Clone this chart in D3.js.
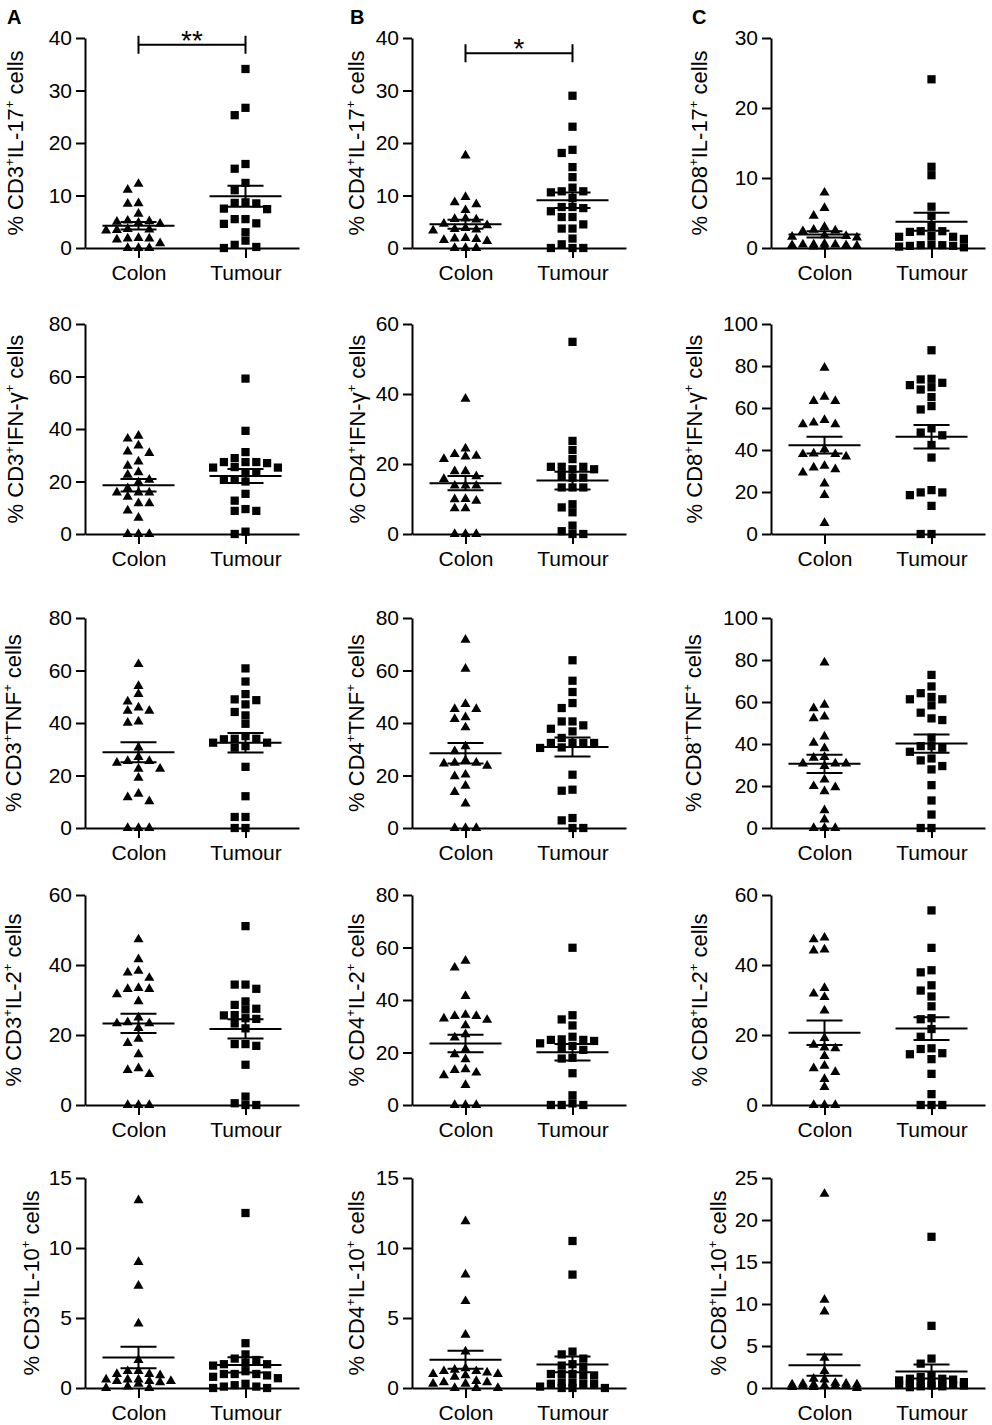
<!DOCTYPE html>
<html lang="en">
<head>
<meta charset="UTF-8">
<title>Cytokine producing T cells in colon and tumour</title>
<style>
  body { margin: 0; background: #fff; }
  svg { display: block; font-family: "Liberation Sans", Arial, sans-serif; }
  .axis path, .axis line { stroke: #000; stroke-width: 2; }
  .axis text { font-family: "Liberation Sans", Arial, sans-serif; font-size: 21px; fill: #000; }
  .stat { stroke: #000; stroke-width: 2; }
</style>
</head>
<body>
<script src="https://d3js.org/d3.v7.min.js"></script>
<script>
// categories
const groups = ["Colon", "Tumour"];
const cellTypes = ["CD3", "CD4", "CD8"];
const cytokines = ["IL-17", "IFN-γ", "TNF", "IL-2", "IL-10"];
const panelLetters = ["A", "B", "C"];

// y tick labels, per cytokine row, per cell type column
const yTicks = [
  [[0, 10, 20, 30, 40], [0, 10, 20, 30, 40], [0, 10, 20, 30]],
  [[0, 20, 40, 60, 80], [0, 20, 40, 60], [0, 20, 40, 60, 80, 100]],
  [[0, 20, 40, 60, 80], [0, 20, 40, 60, 80], [0, 20, 40, 60, 80, 100]],
  [[0, 20, 40, 60], [0, 20, 40, 60, 80], [0, 20, 40, 60]],
  [[0, 5, 10, 15], [0, 5, 10, 15], [0, 5, 10, 15, 20, 25]]
];

// significance (IL-17 row only)
const sigStars = ["**", "*", ""];
const sigLevel = [38.7, 37.1, null];

// % positive cells
const cd3Il17Colon = [12.2, 11.1, 8.5, 8.4, 6.5, 5.2, 5.1, 5.0, 4.8, 4.6, 3.6, 3.5, 3.4, 3.3, 1.9, 1.8, 1.8, 1.6, 0.9, 0, 0, 0];
const cd3Il17Tumour = [34.1, 26.7, 25.3, 16.0, 15.1, 12.4, 11.0, 8.7, 8.6, 8.5, 7.5, 7.4, 5.5, 5.5, 4.7, 4.6, 3.0, 1.4, 0.6, 0.2, 0];
const cd4Il17Colon = [17.6, 9.7, 8.7, 8.3, 7.2, 5.6, 5.5, 5.4, 4.6, 4.3, 3.8, 3.6, 3.5, 3.3, 1.9, 1.8, 1.7, 1.5, 1.3, 0, 0, 0];
const cd4Il17Tumour = [29.0, 23.1, 18.7, 18.1, 15.4, 13.5, 11.5, 10.8, 10.8, 10.6, 9.5, 7.8, 7.8, 7.6, 7.0, 5.9, 5.9, 4.5, 3.7, 3.7, 1.8, 0.7, 0, 0, 0];
const cd8Il17Colon = [7.9, 5.7, 4.6, 3.0, 2.6, 2.5, 2.4, 1.8, 1.7, 1.6, 1.5, 0.6, 0.5, 0.5, 0.5, 0.4, 0.4, 0.3, 0.2, 0.2];
const cd8Il17Tumour = [24.1, 11.6, 10.4, 5.9, 4.6, 3.1, 2.4, 2.4, 2.3, 1.7, 1.6, 1.6, 1.3, 0.5, 0.4, 0.4, 0.3, 0.3, 0.2, 0.1];

const cd3IfngColon = [37.4, 36.3, 33.7, 31.4, 30.8, 27.6, 26, 23.5, 22.5, 20.6, 19.7, 17.4, 15.8, 15.8, 15.8, 14.2, 11.7, 11.7, 8.9, 6.2, 0, 0, 0];
const cd3IfngTumour = [59.2, 39.3, 31.2, 28.9, 27.4, 27.4, 27.4, 27, 25.3, 25.3, 25.5, 23.4, 23.4, 20.6, 20.6, 20, 15.3, 12.7, 9.5, 8.8, 8.8, 0.9, 0];
const cd4IfngColon = [38.6, 24.4, 22.8, 22.3, 22.1, 21.4, 17.9, 17.9, 16.5, 15.7, 13.8, 13.8, 13.8, 10.0, 9.9, 9.5, 7.3, 7.3, 0, 0, 0];
const cd4IfngTumour = [54.9, 26.6, 24.0, 21.4, 19.2, 19.2, 19.2, 18.5, 18.5, 16.6, 16.1, 16.1, 13.3, 13.3, 13.3, 8.5, 7.6, 6.2, 2.4, 0.8, 0, 0];
const cd8IfngColon = [79.1, 65.3, 63.3, 63.3, 54.3, 52.2, 52.2, 53, 40.3, 38, 38, 36.9, 38.3, 31.6, 30.8, 32.4, 29.3, 24, 18.5, 5.2];
const cd8IfngTumour = [87.5, 73.9, 73.6, 72, 70.9, 69.9, 68.8, 65.2, 60.9, 59.3, 50.3, 48.3, 47, 42.4, 36.4, 20.9, 19.8, 19.8, 18.5, 13.4, 0, 0];

const cd3TnfColon = [62.4, 54.1, 51, 48.2, 45.9, 44.6, 44.6, 40.5, 40.1, 30.6, 27, 25.5, 25.5, 24.8, 22.5, 22.5, 19.1, 13, 11.7, 10.2, 0, 0, 0];
const cd3TnfTumour = [60.8, 55.8, 51, 49, 48.7, 47.1, 44.2, 42.9, 39.7, 35, 34, 34, 33.8, 32.5, 32.5, 31.2, 30.6, 23.3, 12.1, 4.2, 4.2, 0, 0];
const cd4TnfColon = [71.7, 60.6, 47.2, 45.3, 45.3, 42.2, 41.5, 38.3, 31.1, 29.2, 25.8, 24.8, 24.5, 24.8, 23.7, 20.3, 19.7, 16.1, 13.7, 9.3, 0, 0, 0];
const cd4TnfTumour = [63.9, 56.1, 51.8, 47.6, 45.7, 40.6, 40.6, 39.1, 37.8, 36.8, 34.3, 32.4, 32.4, 32.4, 32.4, 30.7, 30.5, 20.3, 14.6, 14.2, 3.8, 2.9, 0, 0];
const cd8TnfColon = [78.8, 58.6, 57, 53, 52.2, 43.5, 40.6, 37.9, 33.8, 33.4, 30.7, 30.7, 30.7, 29.5, 23.1, 19.9, 19.4, 17.5, 8.4, 4, 0, 0, 0];
const cd8TnfTumour = [72.9, 67.4, 64.2, 62.4, 61.3, 61.3, 58.4, 54.9, 52.2, 51.4, 43, 39, 39, 38.2, 36.3, 33.1, 32.2, 29.5, 27.9, 20.4, 13.1, 6.4, 0, 0];

const cd3Il2Colon = [47.3, 41.6, 38.3, 37.8, 36.3, 33.4, 33.1, 33.1, 31.6, 29.6, 25, 23.6, 23.3, 23.3, 22, 18.9, 17.7, 14.5, 10.5, 10, 8.8, 0, 0, 0];
const cd3Il2Tumour = [51.1, 34.4, 34.4, 33.2, 29.6, 28.6, 27.5, 27.3, 25.7, 25.6, 24.8, 24.6, 23.3, 21.9, 17.4, 17.4, 16.9, 11.5, 2.4, 0.5, 0, 0];
const cd4Il2Colon = [54.9, 52.3, 41.5, 34.3, 33.9, 33.9, 32.9, 32.4, 30.3, 26.9, 25.7, 21.2, 19.3, 17.4, 13.6, 13.3, 12.3, 11.3, 7.6, 0, 0, 0];
const cd4Il2Tumour = [59.9, 34.2, 32.6, 30.3, 26, 25, 24.8, 24.8, 24.4, 23.5, 22.5, 21.5, 21.0, 18, 17.7, 12.1, 3.7, 0.6, 0, 0, 0];
const cd8Il2Colon = [47.8, 47.3, 44.4, 44.1, 33.4, 31.8, 30.8, 27, 19.1, 17.2, 16.4, 16.2, 14, 11.2, 10.5, 9.4, 7.4, 5.1, 0, 0, 0];
const cd8Il2Tumour = [55.6, 44.9, 38.5, 37.9, 34.2, 32.7, 31, 28.2, 24.8, 24.5, 21.7, 19.5, 16.2, 16, 14.8, 14.5, 13.1, 8.9, 3.1, 0, 0, 0];

const cd3Il10Colon = [13.4, 9.0, 7.3, 4.6, 2.0, 1.2, 1.2, 1.0, 1.0, 0.9, 0.6, 0.6, 0.6, 0.5, 0.5, 0.5, 0.4, 0.3, 0.1, 0, 0];
const cd3Il10Tumour = [12.5, 3.2, 2.4, 2.1, 2.0, 1.8, 1.7, 1.7, 1.6, 1.2, 1.0, 1.0, 1.0, 0.9, 0.8, 0.7, 0.3, 0.2, 0.1, 0.1, 0, 0];
const cd4Il10Colon = [11.9, 8.1, 6.2, 3.8, 2.6, 1.4, 1.3, 1.2, 1.2, 1.1, 1.0, 1.0, 0.9, 0.8, 0.5, 0.4, 0.4, 0.3, 0.3, 0, 0, 0];
const cd4Il10Tumour = [10.5, 8.1, 2.6, 2.4, 2.1, 1.7, 1.6, 1.5, 1.0, 1.0, 1.0, 0.9, 0.9, 0.4, 0.4, 0.3, 0.3, 0.3, 0.1, 0, 0, 0];
const cd8Il10Colon = [23.1, 10.5, 9.1, 3.6, 2.0, 1.1, 1.0, 0.6, 0.5, 0.5, 0.4, 0.4, 0.4, 0.3, 0.3, 0.2, 0.2, 0.1, 0.1, 0];
const cd8Il10Tumour = [18.0, 7.4, 3.5, 2.9, 1.5, 1.3, 1.1, 1.1, 1.0, 0.9, 0.7, 0.6, 0.5, 0.5, 0.5, 0.4, 0.4, 0.3, 0.3, 0.2, 0.2, 0.1];

// lookup table [row][col] -> [colon, tumour]
const panelData = [
  [[cd3Il17Colon, cd3Il17Tumour], [cd4Il17Colon, cd4Il17Tumour], [cd8Il17Colon, cd8Il17Tumour]],
  [[cd3IfngColon, cd3IfngTumour], [cd4IfngColon, cd4IfngTumour], [cd8IfngColon, cd8IfngTumour]],
  [[cd3TnfColon, cd3TnfTumour], [cd4TnfColon, cd4TnfTumour], [cd8TnfColon, cd8TnfTumour]],
  [[cd3Il2Colon, cd3Il2Tumour], [cd4Il2Colon, cd4Il2Tumour], [cd8Il2Colon, cd8Il2Tumour]],
  [[cd3Il10Colon, cd3Il10Tumour], [cd4Il10Colon, cd4Il10Tumour], [cd8Il10Colon, cd8Il10Tumour]]
];

// layout
const width = 992, height = 1425;
const rowTop = [38, 324, 618, 895, 1178];
const plotH = 210;
const colAxisX = [85, 412, 771];
const axisLen = 214;
const letterX = [7, 350, 692];
const labelOffset = [[-62, -48, -64], [-62, -47, -69], [-64, -48, -70], [-64, -48, -64], [-46, -48, -45]];
const slotStep = 10.8;

const svg = d3.select("body").append("svg")
  .attr("width", width)
  .attr("height", height);

// panel letters
panelLetters.forEach((l, c) => {
  svg.append("text")
    .attr("x", letterX[c])
    .attr("y", 24)
    .attr("font-size", 20)
    .attr("font-weight", "bold")
    .text(l);
});

// spread points sideways like a scatter dot plot
function swarm(values, y) {
  const slots = [0, -1, 1, -2, 2, -3, 3];
  const placed = [];
  const out = [];
  const order = d3.range(values.length).sort((a, b) => values[b] - values[a]);
  order.forEach(i => {
    const py = y(values[i]);
    let best = null, bestGap = -1;
    for (const s of slots) {
      const same = placed.filter(p => p.s === s);
      const gap = same.length ? d3.min(same, p => Math.abs(p.py - py)) : Infinity;
      if (gap >= 8) { best = s; break; }
      if (gap > bestGap) { bestGap = gap; best = s; }
    }
    placed.push({ s: best, py });
    out.push({ v: values[i], dx: best * slotStep });
  });
  return out;
}

cytokines.forEach((cyto, r) => {
  cellTypes.forEach((cell, c) => {
    const ticks = yTicks[r][c];
    const x0 = colAxisX[c];
    const top = rowTop[r];

    const y = d3.scaleLinear()
      .domain([0, d3.max(ticks)])
      .range([top + plotH, top]);
    const x = d3.scalePoint()
      .domain(groups)
      .range([x0, x0 + axisLen])
      .padding(0.5);

    const g = svg.append("g");

    g.append("g")
      .attr("class", "axis")
      .attr("transform", "translate(" + x0 + ",0)")
      .call(d3.axisLeft(y).tickValues(ticks).tickSize(9).tickSizeOuter(0).tickPadding(4));

    g.append("g")
      .attr("class", "axis")
      .attr("transform", "translate(0," + y(0) + ")")
      .call(d3.axisBottom(x).tickSize(10).tickSizeOuter(0).tickPadding(7));

    // y label with superscripts
    const lx = x0 + labelOffset[r][c];
    const ly = top + plotH / 2;
    const label = g.append("text")
      .attr("transform", "translate(" + lx + "," + ly + ") rotate(-90)")
      .attr("text-anchor", "middle")
      .attr("font-size", 22);
    label.append("tspan").text("% " + cell);
    label.append("tspan").attr("font-size", 13).attr("dy", -9).text("+");
    label.append("tspan").attr("dy", 9).text(cyto);
    label.append("tspan").attr("font-size", 13).attr("dy", -9).text("+");
    label.append("tspan").attr("dy", 9).text(" cells");

    // points, mean and SEM
    groups.forEach((grp, k) => {
      const vals = panelData[r][c][k];
      const cx = x(grp);
      const mean = d3.mean(vals);
      const sem = d3.deviation(vals) / Math.sqrt(vals.length);

      const sym = d3.symbol()
        .type(k === 0 ? d3.symbolTriangle : d3.symbolSquare)
        .size(k === 0 ? 44 : 68);

      g.append("g").selectAll("path")
        .data(swarm(vals, y))
        .join("path")
        .attr("transform", d => "translate(" + (cx + d.dx) + "," + y(d.v) + ")")
        .attr("d", sym)
        .attr("fill", "#000");

      g.append("line").attr("class", "stat")
        .attr("x1", cx - 36).attr("x2", cx + 36)
        .attr("y1", y(mean)).attr("y2", y(mean));
      g.append("line").attr("class", "stat")
        .attr("x1", cx).attr("x2", cx)
        .attr("y1", y(mean - sem)).attr("y2", y(mean + sem));
      [mean - sem, mean + sem].forEach(v => {
        g.append("line").attr("class", "stat")
          .attr("x1", cx - 18).attr("x2", cx + 18)
          .attr("y1", y(v)).attr("y2", y(v));
      });
    });

    // significance bracket
    if (r === 0 && sigStars[c]) {
      const by = y(sigLevel[c]);
      const xa = x(groups[0]), xb = x(groups[1]);
      g.append("path")
        .attr("d", "M" + xa + "," + (by - 9) + "V" + (by + 9) + "M" + xa + "," + by + "H" + xb + "M" + xb + "," + (by - 9) + "V" + (by + 9))
        .attr("stroke", "#000")
        .attr("stroke-width", 2)
        .attr("fill", "none");
      g.append("text")
        .attr("x", (xa + xb) / 2)
        .attr("y", by + 5)
        .attr("text-anchor", "middle")
        .attr("font-size", 28)
        .text(sigStars[c]);
    }
  });
});
</script>
</body>
</html>
